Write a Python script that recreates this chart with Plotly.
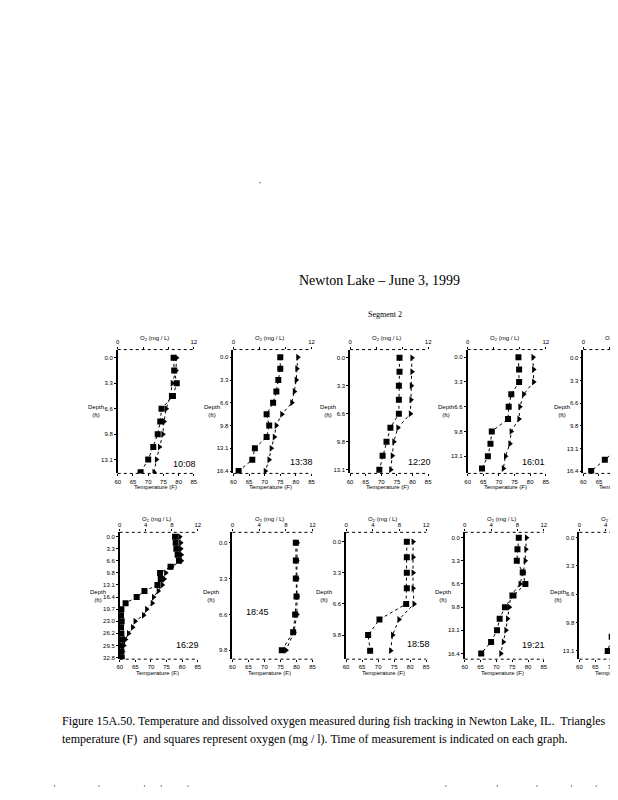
import plotly.graph_objects as go

PAGE_W, PAGE_H = 618, 800
OFF = 8  # default body margin of the html page
W, H = PAGE_W - OFF, PAGE_H - OFF

# ---------------- data ----------------
depth_tick_vals = [0, 3.28, 6.56, 9.84, 13.12, 16.40, 19.69, 22.97, 26.25, 29.53, 32.81]
depth_tick_text = ["0.0", "3.3", "6.6", "9.8", "13.1", "16.4", "19.7", "23.0", "26.2", "29.5", "32.8"]
temp_ticks = [60, 65, 70, 75, 80, 85]
o2_ticks = [0, 4, 8, 12]

p1_depth = [0, 1.64, 3.28, 4.92, 6.56, 8.20, 9.84, 11.48, 13.12, 14.76]
p1_o2 = [8.8, 8.9, 9.3, 8.7, 6.9, 6.7, 6.3, 5.6, 4.8, 3.6]
p1_temp = [79.3, 79.1, 77.9, 77.3, 75.9, 75.2, 74.8, 73.7, 72.7, 71.9]

p2_depth = [0, 1.64, 3.28, 4.92, 6.56, 8.20, 9.84, 11.48, 13.12, 14.76, 16.40]
p2_o2 = [7.2, 7.2, 6.9, 6.6, 6.1, 5.1, 5.5, 5.1, 3.3, 2.9, 0.8]
p2_temp = [80.6, 80.3, 80.1, 79.5, 78.7, 75.5, 73.7, 73.1, 72.1, 71.4, 70.2]

p3_depth = [0, 1.64, 3.28, 4.92, 6.56, 8.20, 9.84, 11.48, 13.12]
p3_o2 = [7.6, 7.6, 7.5, 7.5, 7.5, 6.2, 5.6, 5.0, 4.5]
p3_temp = [79.8, 79.8, 79.6, 79.5, 79.3, 75.3, 74.0, 73.5, 73.0]

p4_depth = [0, 1.64, 3.28, 4.92, 6.56, 8.20, 9.84, 11.48, 13.12, 14.76]
p4_o2 = [7.8, 7.9, 7.9, 6.7, 6.3, 6.2, 3.7, 3.5, 3.1, 2.2]
p4_temp = [80.9, 81.1, 81.1, 77.9, 76.7, 76.4, 73.9, 73.5, 72.1, 71.4]

# panel cut by the page edge: only the deepest readings are visible
p5_depth = [13.12, 14.76, 16.40]
p5_o2 = [5.4, 3.3, 1.2]
p5_temp = [72.0, 71.6, 71.2]

p6_depth = [0, 1.64, 3.28, 4.92, 6.56, 8.20, 9.84, 11.48, 13.12, 14.76, 16.40,
            18.04, 19.69, 21.33, 22.97, 24.61, 26.25, 27.89, 29.53, 31.17, 32.81]
p6_o2 = [8.5, 8.6, 8.7, 8.9, 9.1, 7.8, 6.2, 6.3, 5.8, 3.8, 2.6,
         0.9, 0.25, 0.2, 0.3, 0.2, 0.25, 0.3, 0.2, 0.25, 0.3]
p6_temp = [79.2, 79.5, 79.5, 79.7, 79.7, 76.6, 74.7, 74.2, 73.6, 72.3, 70.8,
           70.4, 68.6, 67.6, 64.9, 64.1, 62.8, 61.8, 61.3, 60.9, 60.7]

p7_depth = [0, 1.64, 3.28, 4.92, 6.56, 8.20, 9.84]
p7_o2 = [9.5, 9.5, 9.5, 9.6, 9.4, 9.1, 7.4]
p7_temp = [80.2, 80.1, 80.1, 80.2, 80.1, 79.2, 76.7]

p8_depth = [0, 1.64, 3.28, 4.92, 6.56, 8.20, 9.84, 11.48]
p8_o2 = [9.1, 9.1, 9.1, 9.1, 9.0, 5.0, 3.3, 3.6]
p8_temp = [80.9, 80.9, 80.9, 80.9, 81.2, 76.5, 74.5, 73.9]

p9_depth = [0, 1.64, 3.28, 4.92, 6.56, 8.20, 9.84, 11.48, 13.12, 14.76, 16.40]
p9_o2 = [8.2, 8.0, 7.9, 8.8, 9.2, 7.4, 6.1, 5.3, 4.9, 4.0, 2.5]
p9_temp = [79.5, 79.3, 79.1, 78.5, 77.5, 74.6, 74.1, 73.5, 73.0, 72.2, 71.4]

p10_depth = [9.84, 11.48, 13.12]
p10_o2 = [5.6, 4.9, 4.3]
p10_temp = [72.5, 72.0, 71.5]

times = ["10:08", "13:38", "12:20", "16:01", "", "16:29", "18:45", "18:58", "19:21", ""]

# ---------------- layout geometry (page pixels) ----------------
geo = [
    dict(left=116, width=77, top=350, bottom=474, yr=(14.9, -1.07), tpos=(184, 465)),
    dict(left=233, width=79, top=350, bottom=474, yr=(16.73, -1.11), tpos=(302, 463)),
    dict(left=351, width=79, top=350, bottom=474, yr=(13.56, -0.97), tpos=(421, 463)),
    dict(left=470, width=79, top=350, bottom=474, yr=(15.41, -1.01), tpos=(537, 463)),
    dict(left=587, width=79, top=350, bottom=474, yr=(16.74, -1.2), tpos=None),
    dict(left=118, width=79, top=533, bottom=660, yr=(33.25, -1.17), tpos=(187, 646)),
    dict(left=232, width=81, top=533, bottom=660, yr=(10.65, -0.94), tpos=(257, 613)),
    dict(left=347, width=81, top=533, bottom=660, yr=(12.38, -0.98), tpos=(420, 645)),
    dict(left=467, width=80, top=533, bottom=660, yr=(17.21, -0.75), tpos=(537, 646)),
    dict(left=583, width=80, top=533, bottom=660, yr=(14.07, -0.61), tpos=None),
]

series = [
    (p1_depth, p1_o2, p1_temp), (p2_depth, p2_o2, p2_temp), (p3_depth, p3_o2, p3_temp),
    (p4_depth, p4_o2, p4_temp), (p5_depth, p5_o2, p5_temp), (p6_depth, p6_o2, p6_temp),
    (p7_depth, p7_o2, p7_temp), (p8_depth, p8_o2, p8_temp), (p9_depth, p9_o2, p9_temp),
    (p10_depth, p10_o2, p10_temp),
]

SANS = "Liberation Sans, Arial, sans-serif"
AX_FONT = dict(family=SANS, size=6, color="black")
SERIF = "Liberation Serif, Times New Roman, serif"


def px(x):
    return (x - OFF) / W


def py(y):
    return 1 - (y - OFF) / H


fig = go.Figure()
layout = dict(width=W, height=H, margin=dict(l=0, r=0, t=0, b=0),
              paper_bgcolor="white", plot_bgcolor="rgba(0,0,0,0)", showlegend=False)
annotations = []
shapes = []

for i, (g, (dep, o2, tmp)) in enumerate(zip(geo, series), start=1):
    right = min(g["left"] + g["width"], PAGE_W)
    frac = (right - g["left"]) / g["width"]
    xd = [px(g["left"]), min(px(right), 1.0)]
    yd = [py(g["bottom"]), py(g["top"])]
    tx = "x" if i == 1 else f"x{i}"
    ox = f"x{10 + i}"
    yy = "y" if i == 1 else f"y{i}"
    xkey = "xaxis" if i == 1 else f"xaxis{i}"
    okey = f"xaxis{10 + i}"
    ykey = "yaxis" if i == 1 else f"yaxis{i}"
    row1 = g["top"] < 400

    layout[xkey] = dict(domain=xd, range=[60, 60 + 25 * frac], anchor=yy, side="bottom",
                        tickvals=temp_ticks, ticks="outside", ticklen=2, tickwidth=1,
                        tickcolor="black", tickfont=AX_FONT, showgrid=False,
                        zeroline=False, showline=False, fixedrange=True)
    layout[okey] = dict(domain=xd, range=[0, 12 * frac], anchor=yy, side="top",
                        tickvals=o2_ticks,
                        ticktext=(["0", "", "", "12"] if row1 else ["0", "4", "8", "12"]),
                        ticks="outside", ticklen=2, tickwidth=1,
                        tickcolor="black", tickfont=AX_FONT, showgrid=False,
                        zeroline=False, showline=False, fixedrange=True)
    layout[ykey] = dict(domain=yd, range=list(g["yr"]), anchor=tx,
                        tickvals=depth_tick_vals, ticktext=depth_tick_text,
                        ticks="outside", ticklen=2, tickcolor="black", tickfont=AX_FONT,
                        showgrid=False, zeroline=False, showline=True, linewidth=1.6,
                        linecolor="black", fixedrange=True)

    # dotted top / bottom frame lines
    for yline in (g["top"], g["bottom"]):
        shapes.append(dict(type="line", xref="paper", yref="paper",
                           x0=px(g["left"]), x1=min(px(right), 1.0), y0=py(yline), y1=py(yline),
                           line=dict(color="black", width=1, dash="dot")))

    fig.add_trace(go.Scatter(x=tmp, y=dep, xaxis=tx, yaxis=yy, mode="lines+markers",
                             line=dict(color="black", width=1, dash="dot"),
                             marker=dict(symbol="triangle-right", size=6, color="black")))
    fig.add_trace(go.Scatter(x=o2, y=dep, xaxis=ox, yaxis=yy, mode="lines+markers",
                             line=dict(color="black", width=1, dash="dot"),
                             marker=dict(symbol="square", size=6, color="black")))

    # axis titles
    title_y = g["top"] - 11 if row1 else g["top"] - 13
    annotations.append(dict(text="O<sub>2</sub> (mg / L)", x=px(g["left"] + 37), y=py(title_y),
                            xref="paper", yref="paper", showarrow=False,
                            xanchor="center", yanchor="middle", font=AX_FONT))
    annotations.append(dict(text="Temperature (F)", x=px(g["left"] + 38), y=py(g["bottom"] + 14),
                            xref="paper", yref="paper", showarrow=False,
                            xanchor="center", yanchor="middle", font=AX_FONT))
    annotations.append(dict(text="Depth<br>(ft)", x=px(g["left"] - 22),
                            y=py((g["top"] + g["bottom"]) / 2),
                            xref="paper", yref="paper", showarrow=False,
                            xanchor="center", yanchor="middle",
                            font=dict(family=SANS, size=6, color="black")))
    if g["tpos"] and times[i - 1]:
        annotations.append(dict(text=times[i - 1], x=px(g["tpos"][0]), y=py(g["tpos"][1]),
                                xref="paper", yref="paper", showarrow=False,
                                xanchor="center", yanchor="middle",
                                font=dict(family=SANS, size=9, color="black")))

# page texts
annotations.append(dict(text="Newton Lake \u2013 June 3, 1999", x=px(381), y=py(281),
                        xref="paper", yref="paper", showarrow=False, xanchor="center",
                        yanchor="middle", font=dict(family=SERIF, size=14, color="black")))
annotations.append(dict(text="Segment 2", x=px(386), y=py(315), xref="paper", yref="paper",
                        showarrow=False, xanchor="center", yanchor="middle",
                        font=dict(family=SERIF, size=8, color="black")))
annotations.append(dict(text="Figure 15A.50. Temperature and dissolved oxygen measured during fish "
                             "tracking in Newton Lake, IL.  Triangles",
                        x=px(58), y=py(722), xref="paper", yref="paper", showarrow=False,
                        xanchor="left", yanchor="middle",
                        font=dict(family=SERIF, size=12.05, color="black")))
annotations.append(dict(text="temperature (F)  and squares represent oxygen (mg / l). Time of "
                             "measurement is indicated on each graph.",
                        x=px(58), y=py(740), xref="paper", yref="paper", showarrow=False,
                        xanchor="left", yanchor="middle",
                        font=dict(family=SERIF, size=12.05, color="black")))

# small scan specks on the page
speck_x = [260, 52, 97, 143, 160, 187, 448, 500, 540, 575, 600]
speck_y = [183, 787, 787, 787, 787, 787, 787, 787, 787, 787, 787]
for sx, sy in zip(speck_x, speck_y):
    shapes.append(dict(type="circle", xref="paper", yref="paper",
                       x0=px(sx - 0.7), x1=px(sx + 0.7), y0=py(sy + 0.7), y1=py(sy - 0.7),
                       line=dict(width=0), fillcolor="#555555"))

layout["annotations"] = annotations
layout["shapes"] = shapes
fig.update_layout(**layout)
fig.write_html("out.html")
